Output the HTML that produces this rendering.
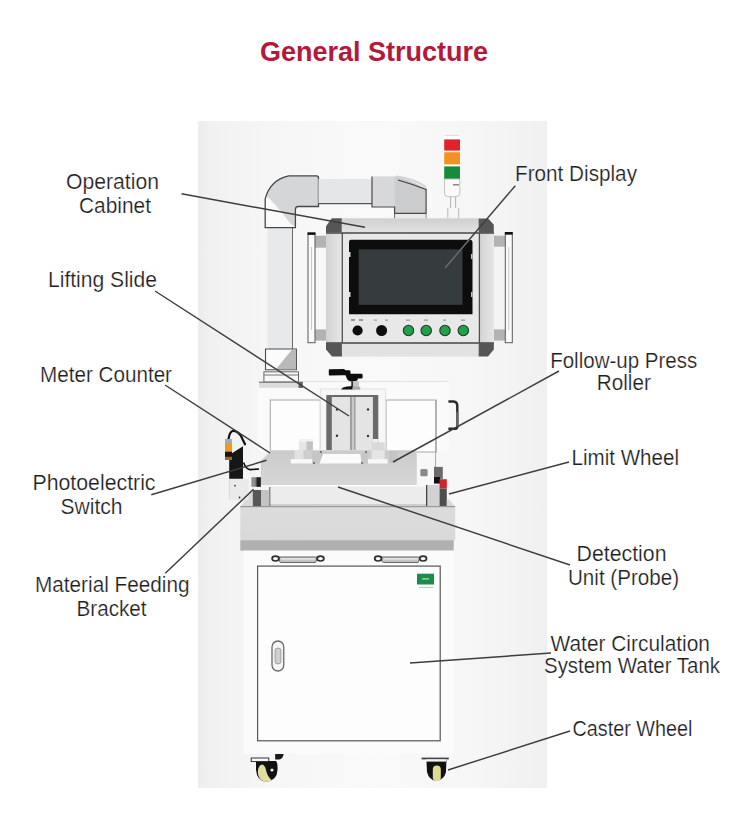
<!DOCTYPE html>
<html><head><meta charset="utf-8">
<style>
html,body{margin:0;padding:0;background:#fff;}
body{width:750px;height:827px;overflow:hidden;position:relative;font-family:"Liberation Sans",sans-serif;}
svg{position:absolute;left:0;top:0;}
.lb{font-family:"Liberation Sans",sans-serif;font-size:21.5px;fill:#1e1e1e;stroke:#ffffff;stroke-width:0.22px;}
.ln{stroke:#3d3d3d;stroke-width:1.45;fill:none;}
</style></head>
<body>
<svg width="750" height="827" viewBox="0 0 750 827">
<defs>
<linearGradient id="bg" x1="0" x2="1" y1="0" y2="0">
<stop offset="0" stop-color="#ededed"/>
<stop offset="0.04" stop-color="#f1f1f1"/>
<stop offset="0.2" stop-color="#f6f6f6"/>
<stop offset="0.5" stop-color="#f9f9f9"/>
<stop offset="0.8" stop-color="#f6f6f6"/>
<stop offset="1" stop-color="#f0f0f0"/>
</linearGradient>
</defs>
<!-- title -->
<text x="260" y="61" font-family="Liberation Sans" font-weight="bold" font-size="27" fill="#b3193a" textLength="228" lengthAdjust="spacingAndGlyphs">General Structure</text>

<!-- photo background -->
<rect x="198" y="121" width="349" height="667" fill="url(#bg)"/>

<g id="machine">
<!-- vertical pipe -->
<rect x="267.6" y="226" width="25" height="123" fill="#e8e9ea"/>
<line x1="292.5" y1="226" x2="292.5" y2="349" stroke="#6a6a6a" stroke-width="1"/>
<!-- elbow -->
<path d="M265.2,227.6 L265.2,198.8 Q270,180 288.7,175.8 L316.5,175.8 Q318.5,175.8 318.5,178 L318.5,206.5 L298.3,206.5 Q295.4,206.5 295.4,209.5 L295.4,227.6 Z" fill="#fafafa"/>
<path d="M266,197 Q270,180 288.7,176 L318,176 L318,206.5 L298.3,206.5 Q295.4,206.5 295.4,209.5 L295.4,227 L290.6,223.7 Q276,205 268.6,197.8 Z" fill="#d4d6d8"/>
<path d="M265.2,227.6 L265.2,198.8 Q270,180 288.7,175.8 L316.5,175.8 Q318.5,175.8 318.5,178 L318.5,206.5 L298.3,206.5 Q295.4,206.5 295.4,209.5 L295.4,227.6 Z" fill="none" stroke="#474747" stroke-width="1.3"/>
<!-- horizontal pipe -->
<linearGradient id="hp" x1="0" y1="0" x2="0" y2="1">
<stop offset="0" stop-color="#dedede"/><stop offset="0.5" stop-color="#e6e6e6"/><stop offset="1" stop-color="#eeeeee"/>
</linearGradient>
<rect x="318.4" y="179" width="53.6" height="24.5" fill="#e4e6e8"/>
<line x1="318.4" y1="203.6" x2="372" y2="203.6" stroke="#555" stroke-width="1.3"/>
<!-- right pipe block -->
<path d="M372,176.4 L395.5,176.4 L395.5,207 L372,207 Z" fill="#d7d8d9"/>
<path d="M394.6,176.4 Q410,179 426.1,188.7 L426.1,213.4 L394.6,213.4 Z" fill="#cbcccd"/>
<path d="M396,176.6 Q412,178 426.1,187" fill="none" stroke="#d0d2d4" stroke-width="2"/>
<path d="M398,180 Q412,184 426.1,189.5" fill="none" stroke="#3e3e3e" stroke-width="1.3"/>
<path d="M372,176.4 L372,207 L394.6,207 L394.6,213.4 L426.1,213.4 L426.1,188.7" fill="none" stroke="#4a4a4a" stroke-width="1.2"/>
<rect x="394.6" y="214" width="31.5" height="4.3" fill="#ebebeb"/>
<line x1="394.6" y1="213.4" x2="394.6" y2="218.3" stroke="#666" stroke-width="1"/>
<line x1="426.1" y1="213.4" x2="426.1" y2="218.3" stroke="#888" stroke-width="1"/>
<!-- light tower -->
<rect x="444" y="136" width="16.2" height="44" fill="#ffffff"/>
<rect x="445" y="135" width="14" height="1" fill="#dddddd"/>
<rect x="444.2" y="139.4" width="15.8" height="11.2" fill="#e1222b"/>
<rect x="444.2" y="152.2" width="15.8" height="12.2" fill="#f09324"/>
<rect x="444.2" y="166.4" width="15.8" height="12.5" fill="#188a3c"/>
<path d="M444.5,179 L459.8,179 L459.8,193 Q459.8,196.7 456,196.7 L448,196.7 Q444.5,196.7 444.5,193 Z" fill="#fafafa" stroke="#b5b5b5" stroke-width="0.8"/>
<rect x="453" y="184" width="6" height="1.5" fill="#888"/>
<line x1="450.6" y1="197" x2="450.6" y2="208" stroke="#aaa" stroke-width="0.9"/>
<line x1="455.6" y1="197" x2="455.6" y2="208" stroke="#aaa" stroke-width="0.9"/>
<rect x="447.8" y="207.8" width="10.9" height="10.5" fill="#f6f6f6"/>
<line x1="447.8" y1="208" x2="447.8" y2="218" stroke="#aaa" stroke-width="0.8"/>
<line x1="458.7" y1="208" x2="458.7" y2="218" stroke="#aaa" stroke-width="0.8"/>

<!-- operation cabinet -->
<linearGradient id="cabTop" x1="0" y1="0" x2="0" y2="1">
<stop offset="0" stop-color="#cfcfcf"/><stop offset="1" stop-color="#e3e3e3"/>
</linearGradient>
<linearGradient id="col" x1="0" y1="0" x2="1" y2="0">
<stop offset="0" stop-color="#d2d2d2"/><stop offset="1" stop-color="#e6e6e6"/>
</linearGradient>
<rect x="341" y="218.3" width="138.5" height="14.4" fill="url(#cabTop)"/>
<rect x="326" y="232.7" width="16" height="110" fill="url(#col)"/>
<rect x="478.7" y="232.7" width="15.3" height="110" fill="url(#col)"/>
<rect x="342" y="233.5" width="137" height="109" fill="#e8e8e8"/>
<rect x="341" y="343" width="138.5" height="13.6" fill="#e2e2e2"/>
<line x1="326" y1="233" x2="494" y2="233" stroke="#454545" stroke-width="1.4"/>
<line x1="326" y1="343" x2="494" y2="343" stroke="#454545" stroke-width="1.4"/>
<line x1="342.3" y1="233" x2="342.3" y2="343" stroke="#505050" stroke-width="1.3"/>
<line x1="479.4" y1="233" x2="479.4" y2="343" stroke="#505050" stroke-width="1.3"/>
<path d="M326,226.3 L331.7,218.3 L341.7,218.3 L341.7,232.5 L326,232.5 Z" fill="#565656"/>
<path d="M478.7,218.5 L488.2,218.5 L493.8,224.7 L493.8,232.7 L478.7,232.7 Z" fill="#565656"/>
<path d="M326,343 L341.9,343 L341.9,356.6 L332,356.6 L326,349.5 Z" fill="#565656"/>
<path d="M478.7,343 L493.8,343 L493.8,349.5 L488,356.6 L478.7,356.6 Z" fill="#565656"/>
<!-- screen -->
<path d="M349,242 Q349,239.8 351,239.8 L470,239.8 Q472.5,239.8 472.5,242.5 L472.5,314.2 L349,314.2 Z" fill="#0d0d0d"/>
<rect x="358.7" y="249.3" width="103.8" height="55.5" fill="#363b3d"/>
<rect x="349" y="252" width="1.5" height="5" fill="#ddd"/>
<rect x="349" y="292" width="1.5" height="5" fill="#ddd"/>
<rect x="471" y="254" width="1.5" height="5" fill="#c8c39a"/>
<rect x="471" y="292" width="1.5" height="5" fill="#c8c39a"/>
<!-- buttons -->
<g fill="#999"><rect x="351" y="319" width="4" height="2"/><rect x="359" y="319" width="4" height="2"/><rect x="374" y="319.5" width="3" height="1.2"/><rect x="385" y="319.5" width="3" height="1.2"/><rect x="406" y="319.5" width="4" height="1.2"/><rect x="424" y="319.5" width="4" height="1.2"/><rect x="443" y="319.5" width="3" height="1.2"/><rect x="461" y="319.5" width="4" height="1.2"/></g>
<circle cx="357.6" cy="330.5" r="5.1" fill="#0e0e0e"/>
<circle cx="381.6" cy="330.5" r="5.5" fill="#0e0e0e"/>
<g fill="#22a04a" stroke="#1d3a28" stroke-width="1.1">
<circle cx="408.5" cy="330.5" r="5.2"/>
<circle cx="426.2" cy="330.5" r="5.2"/>
<circle cx="445" cy="330.5" r="5.2"/>
<circle cx="463.3" cy="330.5" r="5.2"/>
</g>
<!-- side handles -->
<rect x="315" y="235.7" width="11" height="12" fill="#b3b3b3"/>
<rect x="315" y="329.4" width="11" height="11.2" fill="#b3b3b3"/>
<rect x="308" y="234" width="7" height="108.7" fill="#fafafa" stroke="#5a5a5a" stroke-width="1"/>
<line x1="311.5" y1="247" x2="311.5" y2="330" stroke="#bdbdbd" stroke-width="0.8"/>
<rect x="307.5" y="232.3" width="8" height="2.5" fill="#111"/>
<rect x="494" y="235.7" width="11" height="11" fill="#b3b3b3"/>
<rect x="494" y="329.4" width="11" height="11.2" fill="#b3b3b3"/>
<rect x="505.3" y="234" width="7" height="108.7" fill="#fafafa" stroke="#5a5a5a" stroke-width="1"/>
<line x1="508.8" y1="247" x2="508.8" y2="330" stroke="#bdbdbd" stroke-width="0.8"/>
<rect x="504.8" y="232" width="8" height="2.5" fill="#111"/>

<!-- frame behind slide -->
<rect x="258" y="381.4" width="190.6" height="70" fill="#fafafa"/>
<line x1="258" y1="381.6" x2="448.6" y2="381.6" stroke="#e2e2e2" stroke-width="1"/>
<rect x="270.3" y="400" width="50" height="52" fill="#fdfdfd" stroke="#a8a8a8" stroke-width="1"/>
<rect x="386" y="400" width="50.3" height="52" fill="#fdfdfd" stroke="#a8a8a8" stroke-width="1"/>
<path d="M448.4,401.5 L453.5,401.5 Q457.3,401.8 457.3,406 L457.3,427 Q457,428.8 455,428.8 L448.4,428.8" fill="none" stroke="#2a2a2a" stroke-width="2.4"/>
<line x1="457.3" y1="412" x2="457.3" y2="426" stroke="#666" stroke-width="2.4"/>
<line x1="435.6" y1="400" x2="435.6" y2="467" stroke="#a8a8a8" stroke-width="1"/>

<!-- pipe base -->
<path d="M265.5,349 L296.4,349 L296.4,369.7 L265.5,369.7 Z" fill="#fbfbfb" stroke="#4e4e4e" stroke-width="1.1"/>
<path d="M276,369.2 L291.6,350 L296,350 L296,369.2 Z" fill="#b9b9b9"/>
<rect x="263.9" y="371.8" width="34.6" height="10.2" fill="#f7f7f7" stroke="#666" stroke-width="1"/>
<line x1="264" y1="375" x2="298.5" y2="375" stroke="#777" stroke-width="1"/>
<rect x="259" y="382" width="43.8" height="5.8" fill="#dcdcdc"/>
<line x1="259" y1="382.3" x2="302.8" y2="382.3" stroke="#666" stroke-width="0.9"/>
<rect x="298.5" y="382" width="4.3" height="6" fill="#666"/>

<!-- slide assembly -->
<rect x="320.3" y="389" width="65.3" height="62" fill="#f7f7f7" stroke="#dcdcdc" stroke-width="0.8"/>
<rect x="326.3" y="395" width="52" height="55" fill="#6a6a6a"/>
<rect x="331.8" y="397" width="18.7" height="53" fill="#e4e4e4"/>
<rect x="350.5" y="397" width="4.9" height="53" fill="#c9c9c9"/>
<line x1="351" y1="397" x2="351" y2="450" stroke="#777" stroke-width="0.9"/>
<line x1="355" y1="397" x2="355" y2="450" stroke="#777" stroke-width="0.9"/>
<rect x="355.4" y="397" width="17.5" height="53" fill="#e4e4e4"/>
<rect x="372.9" y="439" width="5.4" height="11" fill="#efefef"/>
<circle cx="337" cy="409.5" r="1.2" fill="#333"/><circle cx="368" cy="409.5" r="1.2" fill="#333"/>
<circle cx="337" cy="435.7" r="1.2" fill="#333"/><circle cx="368" cy="436" r="1.2" fill="#333"/>
<!-- top handle -->
<path d="M329.5,369.2 L344,369 L345.5,370.3 L349.5,370.3 Q350.5,370.5 350.5,372 L350.5,373.8 L361.8,373.8 Q362.6,374 362.6,375 L362.6,377.8 Q362.5,378.6 361.5,378.6 L357.8,378.6 L357.6,380 Q356,381.5 352.7,381.5 Q348,381 347,379 L346.3,377 L345.5,375.2 L343,375.2 L329.5,375.5 Q328.8,375.4 328.8,374.6 L328.8,370 Q329,369.2 329.5,369.2 Z" fill="#0d0d0d"/>
<rect x="352.7" y="381.2" width="6.3" height="6.5" fill="#c4c4c4"/>
<rect x="351.3" y="381.2" width="1.6" height="6" fill="#222"/>
<path d="M341.2,389.6 Q342,387.2 347,386.6 L352.7,386 L352.7,389.6 Z" fill="#111"/>
<rect x="352.7" y="386.8" width="7.5" height="2.8" fill="#aaa"/>
<!-- middle block -->
<linearGradient id="mb" x1="0" y1="0" x2="0" y2="1">
<stop offset="0" stop-color="#cbcbcb"/><stop offset="1" stop-color="#d6d6d6"/>
</linearGradient>
<path d="M260.8,461 L271.6,450.2 L413,450.2 Q416.8,451 416.8,456 L416.8,485 L260.8,485 Z" fill="url(#mb)"/>
<rect x="298.9" y="439.3" width="14" height="11" fill="#e6e6e6"/>
<rect x="298.9" y="439.3" width="14" height="2.2" fill="#f2f2f2"/>
<rect x="306.5" y="441.5" width="6.4" height="9" fill="#c2c2c2"/>
<rect x="294.5" y="450.2" width="14" height="9" fill="#e2e2e2"/>
<rect x="303.5" y="450.2" width="5" height="9" fill="#cdcdcd"/>
<rect x="290.9" y="459.1" width="21.2" height="4.4" fill="#f8f8f8"/>
<path d="M312.5,463.5 L319.5,463.5 L323.1,454 L321,451 L312.5,451 Z" fill="#c6c6c6"/>
<path d="M323.1,454 L360.5,454 L361.5,463.5 L319.5,463.5 Z" fill="#fbfbfb"/>
<path d="M360.5,454 L367.9,451 L367.9,463.5 L361.5,463.5 Z" fill="#c6c6c6"/>
<rect x="371.5" y="442.3" width="13.2" height="8" fill="#d9d9d9"/>
<rect x="371.5" y="450.3" width="13.2" height="9" fill="#e6e6e6"/>
<rect x="367.9" y="459.1" width="19.8" height="4.4" fill="#f8f8f8"/>
<rect x="389.1" y="451" width="8" height="12" fill="#c4c4c4"/>
<circle cx="321" cy="452" r="0.9" fill="#555"/><circle cx="314" cy="463" r="0.9" fill="#555"/>
<circle cx="366" cy="452" r="0.9" fill="#555"/><circle cx="362" cy="463" r="0.9" fill="#555"/>
<!-- lower platen -->
<rect x="269.2" y="485" width="157.2" height="20.5" fill="#ececec"/>
<line x1="269.2" y1="485.8" x2="426.4" y2="485.8" stroke="#fafafa" stroke-width="1.5"/>
<line x1="269.2" y1="505" x2="426.4" y2="505" stroke="#a0a0a0" stroke-width="0.8"/>
<line x1="269.8" y1="487" x2="269.8" y2="506" stroke="#555" stroke-width="1"/>
<!-- dark bits left of platen -->
<rect x="252.5" y="490" width="8.5" height="17" fill="#575757"/>
<rect x="261" y="490" width="8.2" height="17" fill="#c3c3c3"/>
<rect x="251.5" y="477.3" width="9.3" height="9.4" fill="#7a7a7a"/>
<rect x="256.5" y="477.3" width="4.3" height="9.4" fill="#222"/>
<rect x="252.5" y="478" width="2" height="8" fill="#9a9a9a"/>
<!-- right of platen -->
<rect x="420.3" y="469" width="7.3" height="7.3" rx="1.5" fill="#8a8a8a"/>
<path d="M426,485 L427.6,485 L427.6,506 L426,506 Z" fill="#444"/>
<rect x="427.6" y="485" width="11.4" height="21" fill="#d2d2d2"/>
<!-- limit wheel -->
<rect x="434" y="466.9" width="8.8" height="12" fill="#6a6a6a"/>
<rect x="434" y="477" width="6" height="6.6" fill="#111"/>
<rect x="439.5" y="479.2" width="7.3" height="9.4" fill="#cf2229"/>
<rect x="439.5" y="488.6" width="7.3" height="17.4" fill="#4e4e4e"/>
<!-- tray -->
<path d="M240.3,507.4 L250.9,490.3 L252.5,490.3 L252.5,507.4 Z" fill="#d9d9d9"/>
<path d="M449.4,499.5 L455.2,506.8 L446.8,506.8 L446.8,499.5 Z" fill="#d9d9d9"/>
<linearGradient id="tr" x1="0" y1="0" x2="0" y2="1">
<stop offset="0" stop-color="#dcdcdc"/><stop offset="1" stop-color="#d9d9d9"/>
</linearGradient>
<rect x="240.3" y="506.5" width="214.9" height="33.7" fill="url(#tr)"/>
<line x1="240.3" y1="506.7" x2="455.2" y2="506.7" stroke="#8a8a8a" stroke-width="1"/>
<rect x="240.3" y="540.2" width="213.4" height="10.5" fill="#b0b0b0"/>

<!-- photoelectric switch -->
<rect x="229.2" y="478.7" width="19.5" height="21.5" fill="#eaeaea"/>
<line x1="229.4" y1="479" x2="229.4" y2="500" stroke="#d8d8d8" stroke-width="0.8"/>
<circle cx="235" cy="485.7" r="0.9" fill="#444"/><circle cx="239.5" cy="497.5" r="0.9" fill="#333"/>
<path d="M229.2,455 L243,446.2 L243,478.7 L229.2,478.7 Z" fill="#161616"/>
<path d="M228.5,439 Q229.5,432 233,430.8 Q238,431 241,436 L245,444.3" fill="none" stroke="#111" stroke-width="2.2" stroke-linecap="round"/>
<path d="M243.6,462.5 Q246,469.5 250,469.6 L259,469" fill="none" stroke="#111" stroke-width="1.6"/>
<rect x="225" y="439.2" width="7" height="20.8" fill="#ee9a22"/>
<rect x="225" y="439.2" width="7" height="3.7" fill="#9fb0b8"/>
<rect x="225" y="451.7" width="7" height="5.2" fill="#151515"/>
<rect x="225" y="456.9" width="7" height="3" fill="#a0642a"/>
<!-- lower cabinet -->
<rect x="243.5" y="550.7" width="210.5" height="203" fill="#fbfbfb"/>
<rect x="257.6" y="566.1" width="182.6" height="174.7" fill="#fdfdfd" stroke="#555" stroke-width="1.2"/>
<g id="hdl">
<path d="M279,557 L316,557 Q317.5,557 317,559 L315.5,562.5 L281,562.5 Q279.5,562.5 279,560 Z" fill="#c4c4c4" stroke="#5a5a5a" stroke-width="0.9"/>
<rect x="281" y="558" width="34" height="1.6" fill="#e6e6e6"/>
<ellipse cx="275.5" cy="558.6" rx="3.4" ry="2.4" fill="#fafafa" stroke="#2e2e2e" stroke-width="1.7"/>
<ellipse cx="320.5" cy="558.6" rx="3.4" ry="2.4" fill="#fafafa" stroke="#2e2e2e" stroke-width="1.7"/>
</g>
<use href="#hdl" x="102.6" y="0"/>
<rect x="417" y="573.7" width="17" height="10.8" fill="#1c8c4a"/>
<rect x="419" y="587" width="14" height="0.8" fill="#9ac5a8"/>
<rect x="422" y="578.3" width="7" height="1.2" fill="#b5e0c0"/>
<rect x="272" y="641" width="11.8" height="30" rx="5.9" fill="#f4f4f4" stroke="#6a6a6a" stroke-width="1.3"/>
<rect x="275" y="648" width="6" height="16" rx="3" fill="#cfcfcf" stroke="#888" stroke-width="0.7"/>
<!-- casters -->
<path d="M275.2,754 L283.6,754 Q283,759 279,759.5 L275.2,759.5 Z" fill="#1a1a1a"/>
<path d="M256,761 L276,761 Q278,763 277.5,770 Q277,781 266,781.6 Q257,781 256,770 Z" fill="#111"/>
<path d="M262,764.5 Q265,765 266,770 Q267,776 272,780.5 Q268,782 264,781.5 Q258,779 257.8,772 Q258,765.5 262,764.5 Z" fill="#e2dea0"/>
<circle cx="272" cy="770" r="1.6" fill="#e8f4f4"/>
<rect x="251.2" y="758" width="17.6" height="3.6" fill="#f8f8f8" stroke="#222" stroke-width="0.9"/>
<path d="M426.4,760 L446.4,760 L446,772 Q444,780 436,781 Q429,780 427,772 Z" fill="#111"/>
<rect x="432.8" y="765.6" width="8" height="15.6" rx="4" fill="#dfdc92"/>
<rect x="421.6" y="757.6" width="27.2" height="1.8" fill="#444"/>
<rect x="426" y="759.4" width="20" height="2.2" fill="#f4f4f4"/>
</g>

<!-- leader lines -->
<g class="ln">
<line x1="181.5" y1="193.8" x2="365" y2="227.3"/>
<line x1="515.3" y1="185.7" x2="445" y2="268"/>
<line x1="155" y1="291" x2="349" y2="416"/>
<line x1="165" y1="385" x2="270" y2="453"/>
<line x1="151.3" y1="494.7" x2="266.5" y2="460.3"/>
<line x1="165.3" y1="573.3" x2="253.5" y2="489.3"/>
<line x1="559" y1="371" x2="393" y2="462"/>
<line x1="569" y1="462" x2="449" y2="494"/>
<line x1="570" y1="565" x2="338" y2="487"/>
<line x1="551" y1="653" x2="410" y2="663"/>
<line x1="570" y1="731" x2="448" y2="770"/>
</g>

<clipPath id="scr"><rect x="349" y="239.8" width="123.5" height="74.4"/></clipPath>
<line x1="515.3" y1="185.7" x2="445" y2="268" stroke="#6e6e6e" stroke-width="1.3" clip-path="url(#scr)"/>
<!-- labels -->
<g class="lb">
<text x="66" y="189" textLength="93" lengthAdjust="spacingAndGlyphs">Operation</text>
<text x="79" y="212.7" textLength="72" lengthAdjust="spacingAndGlyphs">Cabinet</text>
<text x="48" y="287" textLength="109" lengthAdjust="spacingAndGlyphs">Lifting Slide</text>
<text x="40" y="382" textLength="132" lengthAdjust="spacingAndGlyphs">Meter Counter</text>
<text x="32.5" y="490.3" textLength="123" lengthAdjust="spacingAndGlyphs">Photoelectric</text>
<text x="60.5" y="514.1" textLength="62" lengthAdjust="spacingAndGlyphs">Switch</text>
<text x="35" y="592.4" textLength="154.5" lengthAdjust="spacingAndGlyphs">Material Feeding</text>
<text x="76.5" y="616.2" textLength="70" lengthAdjust="spacingAndGlyphs">Bracket</text>
<text x="515" y="181.3" textLength="122" lengthAdjust="spacingAndGlyphs">Front Display</text>
<text x="550.2" y="367.5" textLength="147" lengthAdjust="spacingAndGlyphs">Follow-up Press</text>
<text x="596.8" y="390.2" textLength="54" lengthAdjust="spacingAndGlyphs">Roller</text>
<text x="571.5" y="464.8" textLength="107.5" lengthAdjust="spacingAndGlyphs">Limit Wheel</text>
<text x="576.5" y="560.8" textLength="90" lengthAdjust="spacingAndGlyphs">Detection</text>
<text x="568" y="584.8" textLength="111" lengthAdjust="spacingAndGlyphs">Unit (Probe)</text>
<text x="550.5" y="650.7" textLength="159.5" lengthAdjust="spacingAndGlyphs">Water Circulation</text>
<text x="544" y="673" textLength="176" lengthAdjust="spacingAndGlyphs">System Water Tank</text>
<text x="572.5" y="736" textLength="120" lengthAdjust="spacingAndGlyphs">Caster Wheel</text>
</g>
</svg>
</body></html>
